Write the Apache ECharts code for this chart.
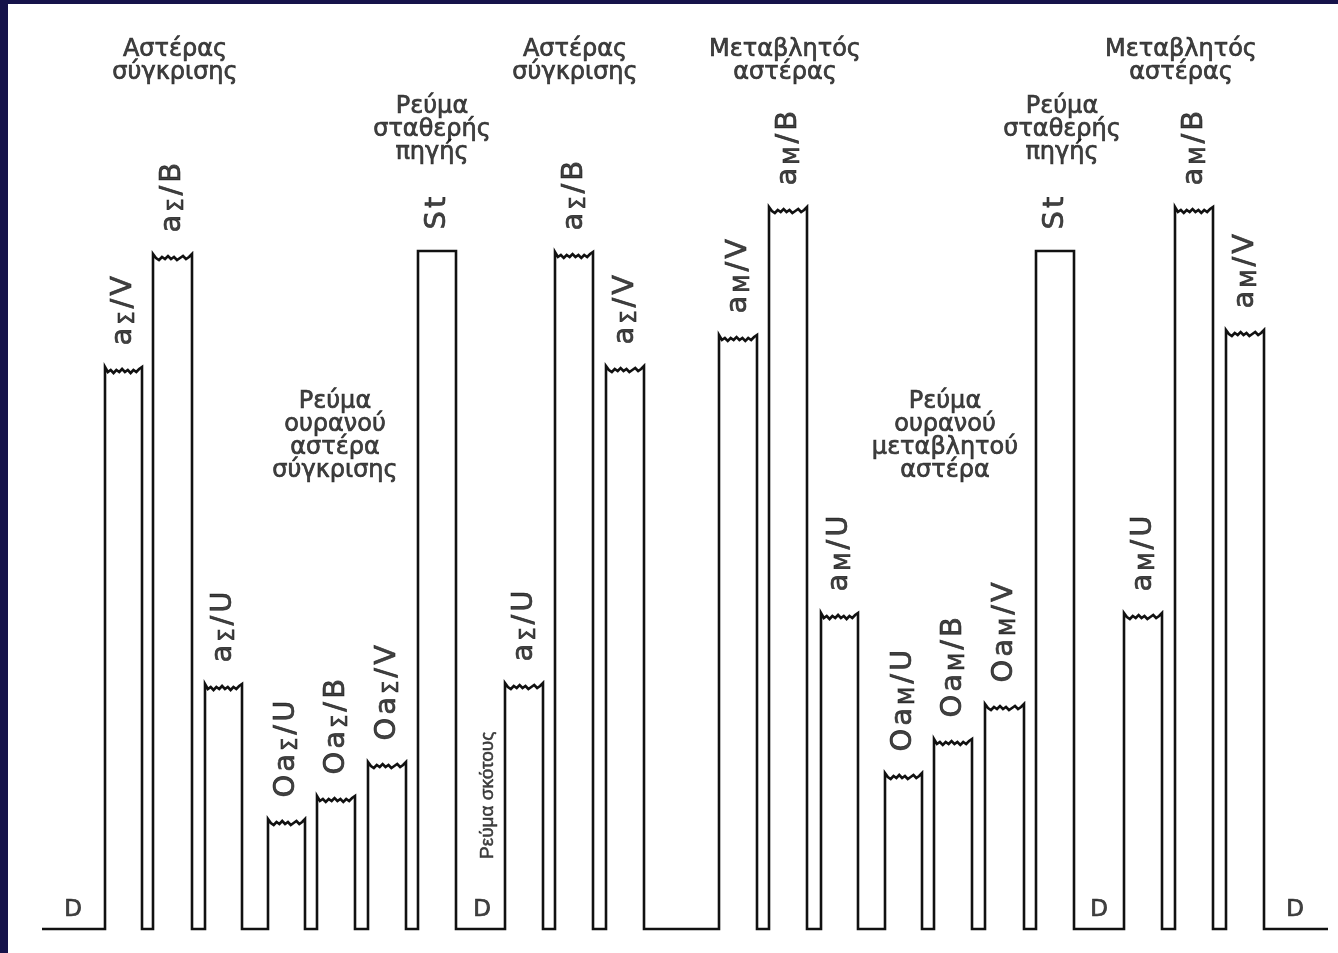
<!DOCTYPE html>
<html><head><meta charset="utf-8">
<script src="https://cdn.jsdelivr.net/npm/echarts@6/dist/echarts.min.js"></script>
<style>
html,body{margin:0;padding:0;width:1338px;height:953px;background:#16134a;overflow:hidden}
#c{position:absolute;left:8px;top:4px;width:1330px;height:949px;background:#fff}
</style></head><body><div id="c"></div>
<script>
// ---- Photometer strip-chart record (deflection, arbitrary units; dark current D = 0) ----
const traceStart = 42, traceEnd = 1328;
const barStart = [105,153,205,268,317,368,418, 505,555,606,719,769,821,885,934,985,1036, 1124,1175,1226];
const barEnd   = [142,192,242,305,355,406,456, 543,593,644,757,807,858,922,972,1024,1074, 1162,1213,1264];
const barLevel = [562,675,245,110,133,167,678, 246,677,563,594,722,316,156,190,225,678, 316,722,599];
const barNoisy = [1,1,1,1,1,1,0, 1,1,1,1,1,1,1,1,1,0, 1,1,1];
const barLabels = ['a_Σ/V','a_Σ/B','a_Σ/U','Oa_Σ/U','Oa_Σ/B','Oa_Σ/V','St',
                   'a_Σ/U','a_Σ/B','a_Σ/V','a_M/V','a_M/B','a_M/U','Oa_M/U','Oa_M/B','Oa_M/V','St',
                   'a_M/U','a_M/B','a_M/V'];
// hand-read ripple of the noisy plateaus (deflection offsets across one plateau)
const rippleA = [0,-5,-3,-6,-3,-5,-2,-5,-3,-6,-3,-5,-2,0];
const rippleB = [0,-4,-6,-3,-5,-2,-5,-3,-6,-4,-2,-5,-3,0];
// dark-current markers
const dLabelX = [73,482,1099,1295];
const dLabelY = [19,19,19,19];
// annotations
const noteText = ['Αστέρας\nσύγκρισης','Ρεύμα\nσταθερής\nπηγής','Ρεύμα\nουρανού\nαστέρα\nσύγκρισης',
                  'Αστέρας\nσύγκρισης','Μεταβλητός\nαστέρας','Ρεύμα\nσταθερής\nπηγής',
                  'Ρεύμα\nουρανού\nμεταβλητού\nαστέρα','Μεταβλητός\nαστέρας'];
const noteX = [175,432,335,575,785,1062,945,1181];
const noteY = [891,834,539,891,891,834,539,891];
const darkNote = 'Ρεύμα σκότους';
const darkNoteX = 488, darkNoteY = 70;

// ---- build the trace ----
const trace = [[traceStart,0]];
barStart.forEach((s,i)=>{
  const e = barEnd[i], lv = barLevel[i];
  trace.push([s,0]);
  if (barNoisy[i]) {
    const r = (i%2===0) ? rippleA : rippleB;
    r.forEach((d,k)=>trace.push([s+(e-s)*k/(r.length-1), lv+d]));
  } else {
    trace.push([s,lv]); trace.push([e,lv]);
  }
  trace.push([e,0]);
});
trace.push([traceEnd,0]);

function toRich(str){
  let out='';
  for(let i=0;i<str.length;i++){
    if(str[i]==='_'){ out+='{s|'+str[i+1]+'}'; i++; }
    else out+='{m|'+str[i]+'}';
  }
  return out;
}
const LABEL_GAP = 20;
const barLabelData = barStart.map((s,i)=>[(s+barEnd[i])/2, barLevel[i]+LABEL_GAP, barLabels[i]]);
const noteData = noteText.map((t,i)=>[noteX[i],noteY[i],t]);
const dData = dLabelX.map((x,i)=>[x,dLabelY[i],'D']);

const ink = '#111111';
const thick = {textBorderColor:ink,textBorderWidth:0.7};
const chart = echarts.init(document.getElementById('c'));
chart.setOption({
  animation:false,
  grid:{left:0,right:0,top:0,bottom:0},
  xAxis:{type:'value',min:8,max:1338,show:false},
  yAxis:{type:'value',min:-24,max:925,show:false},
  series:[
    {type:'line',data:trace,symbol:'none',silent:true,clip:false,
     lineStyle:{color:ink,width:2.6,join:'miter'}},
    {type:'scatter',data:barLabelData,symbolSize:1,silent:true,itemStyle:{color:'rgba(0,0,0,0)'},
     label:{show:true,position:'inside',rotate:90,align:'left',verticalAlign:'middle',
       formatter:p=>toRich(p.data[2]),
       rich:{
         m:Object.assign({fontFamily:'DejaVu Sans',fontSize:29,color:ink,lineHeight:32,padding:[0,1.5]},thick),
         s:Object.assign({fontFamily:'DejaVu Sans',fontSize:21,color:ink,lineHeight:21,verticalAlign:'bottom',padding:[0,1.5]},thick)
       }}},
    {type:'scatter',data:noteData,symbolSize:1,silent:true,itemStyle:{color:'rgba(0,0,0,0)'},
     label:Object.assign({show:true,position:'inside',align:'center',verticalAlign:'top',
       formatter:p=>p.data[2],fontFamily:'DejaVu Sans',fontSize:24,lineHeight:23,color:ink},thick)},
    {type:'scatter',data:dData,symbolSize:1,silent:true,itemStyle:{color:'rgba(0,0,0,0)'},
     label:Object.assign({show:true,position:'inside',align:'center',verticalAlign:'middle',
       formatter:p=>p.data[2],fontFamily:'DejaVu Sans',fontSize:23,color:ink},thick)},
    {type:'scatter',data:[[darkNoteX,darkNoteY,darkNote]],symbolSize:1,silent:true,itemStyle:{color:'rgba(0,0,0,0)'},
     label:Object.assign({show:true,position:'inside',rotate:90,align:'left',verticalAlign:'middle',
       formatter:p=>p.data[2],fontFamily:'"Liberation Sans Narrow","Liberation Sans"',fontSize:19,color:ink},
       {textBorderColor:ink,textBorderWidth:0.5})}
  ]
});
</script></body></html>
